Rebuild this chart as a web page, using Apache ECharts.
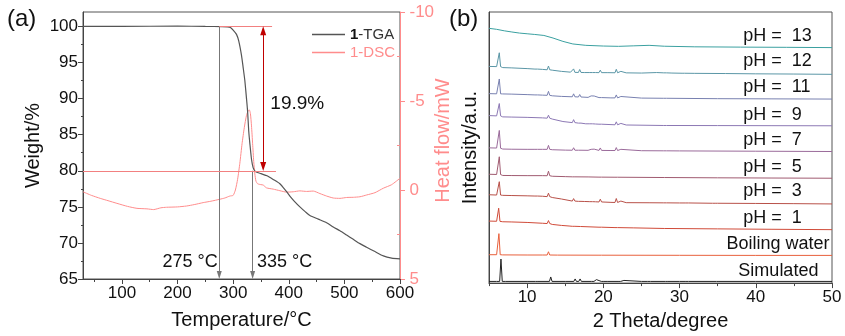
<!DOCTYPE html>
<html>
<head>
<meta charset="utf-8">
<script src="https://cdn.jsdelivr.net/npm/echarts@6/dist/echarts.min.js"></script>
<style>html,body{margin:0;padding:0;background:#fff}#c{width:845px;height:336px}</style>
</head>
<body>
<div id="c"></div>
<script>
// ---------- (a) TGA / DSC data ----------
const tgaTemp   = [30,100,200,250,280,290,295,300,306,310,315,318,321,324,326,328,330,333,336,340,350,361,372,384,395,402,411,420,430,438,453,468,480,492,504,516,528,540,555,570,585,600];
const tgaWeight = [100,100,100.05,100,99.98,99.95,99.85,99.5,98.9,98.0,96.0,94.3,92.5,90.0,88.2,85.5,83.8,81.6,80.4,79.9,79.6,79.3,78.8,78.2,77.2,76.5,75.7,75.0,74.3,73.8,73.3,72.8,72.2,71.7,71.1,70.5,69.9,69.4,68.8,68.2,67.9,67.8];
const dscTemp = [30,45,61,75,91,110,127,145,157,170,180,200,216,230,246,260,276,285,294,300,304,308,312,316,320,324,327,329,331,333,335,337,339,341,344,350,354,360,372,384,396,408,420,432,444,456,468,480,492,504,516,528,540,555,570,585,600];
const dscHeat = [0.1,0.3,0.47,0.6,0.75,0.92,1.03,1.06,1.1,1.0,0.97,0.95,0.9,0.82,0.71,0.63,0.52,0.45,0.34,0.3,0.0,-0.6,-1.5,-2.6,-3.5,-4.2,-4.45,-4.5,-4.3,-3.6,-2.6,-1.6,-0.9,-0.5,-0.35,-0.3,-0.28,-0.12,-0.05,0.04,0.12,0.1,0.05,0.08,0.06,0.2,0.34,0.45,0.47,0.42,0.41,0.38,0.28,0.15,-0.1,-0.3,-0.66];
const tempTickLabels = [100,200,300,400,500,600];
const tempMinorTicks = [50,150,250,350,450,550];
const weightTickLabels = [65,70,75,80,85,90,95,100];
const weightMinorTicks = [67.5,72.5,77.5,82.5,87.5,92.5,97.5];
const heatTickLabels = [-10,-5,0,5];
const heatMinorTicks = [-7.5,-2.5,2.5];
const onsetTemps = [275,335];
const lossLabel = '19.9%';

// ---------- (b) PXRD data: baseline points [2θ, I] and peaks [2θ, base, height] ----------
const xrdNames = ['pH =  13','pH =  12','pH =  11','pH =  9','pH =  7','pH =  5','pH =  3','pH =  1','Boiling water','Simulated'];
const base13 = [[5,257.5],[6,256.5],[7,255],[8,253.8],[9,252.7],[10,252],[11,251.3],[12.2,250.3],[13.4,247.7],[14.7,244.3],[16,241.7],[17.7,240.3],[20,239.6],[22,239.3],[24,239.8],[26,240.3],[28,239.4],[32,238.8],[38,238.5],[44,238.3],[50,238]];
const peaks13 = [];
const base12 = [[5,219],[6,218.8],[6.8,217.8],[8,217.5],[10,216.8],[12,216],[13.3,215.2],[14.5,214],[15.7,213.2],[17.5,212.8],[20.5,212.7],[23,212.5],[25,212.3],[27,212.8],[29,212.3],[32,212],[36,211.8],[40,211.5],[45,211.3],[50,211]];
const peaks12 = [[6.35,218.8,14],[11.2,216.3,1.5],[12.8,215.6,3.8],[16.1,213,3.5],[16.9,212.9,3],[18.4,212.8,1.5],[18.8,212.8,1.8],[19.6,212.7,2.5],[21.7,212.6,3.5],[22.3,212.5,1.5],[28.1,212.5,1.2],[30.5,212.1,0.8]];
const base11 = [[5,191.5],[6,191.3],[6.8,191.2],[8,191],[10,190.5],[12,190],[13.3,189.3],[14.5,188.7],[16,188.3],[18,187.7],[21,187.2],[25,187],[28,186.8],[35,186.4],[42,186.2],[50,186]];
const peaks11 = [[6.35,191.3,15],[11.2,190.2,1.2],[12.8,189.8,4],[16.1,188.3,3],[16.9,188.1,2.5],[18.4,187.7,1.5],[18.8,187.6,1.5],[19.6,187.5,2],[21.7,187.2,3],[22.3,187.1,1.5],[28.1,186.8,1]];
const base9 = [[5,169.3],[6,169],[6.8,168],[8,167.8],[10,167.5],[12,167],[13.3,165.8],[14.7,163.3],[16,162.3],[17.7,161],[20,160.3],[23,159.8],[28,159.3],[35,159.2],[42,159.1],[50,159]];
const peaks9 = [[6.35,169,12.5],[12.8,166.7,3],[16.1,162.2,3],[16.9,161.7,2],[18.4,161,1],[18.8,160.8,1.2],[19.6,160.6,2],[21.7,160,3],[22.3,159.9,1.5],[28.1,159.3,1]];
const base7 = [[5,136.7],[6,136.5],[6.8,135.5],[8,135.3],[10,135.2],[12,135.2],[13.3,134.8],[15,134.4],[18,134.2],[21,134],[25,133.8],[30,133.6],[40,133.3],[50,133]];
const peaks7 = [[6.35,136.3,18],[11.2,135.2,1.5],[12.8,135.2,4],[16.1,134.3,2.5],[16.9,134.3,2],[18.4,134.2,1],[18.8,134.2,1.2],[19.6,134.1,2.5],[21.7,134,3],[22.3,134,1.2],[28.1,133.7,1]];
const base5 = [[5,110],[6,109.8],[6.8,108.8],[8,108.7],[10,108.6],[12,108.6],[13.3,108],[15,107.6],[18,107.3],[22,107],[28,106.7],[35,106.4],[42,106.2],[50,106]];
const peaks5 = [[6.35,109.7,18],[12.8,108.5,4.6],[16.1,107.4,0.8],[19.6,107.1,1.2],[21.7,107,0.8]];
const base3 = [[5,89.3],[6,89],[6.8,88.7],[8,88.5],[10,88.2],[12,87.8],[13.3,86.5],[14.5,85],[16,83],[17.5,82.5],[19,82.1],[21,81.6],[23,81.3],[26,81.2],[30,81],[35,80.7],[40,80.5],[45,80.3],[50,80]];
const peaks3 = [[6.35,89,13.5],[11.2,88,1.5],[12.8,87.4,3.5],[16.1,82.9,2.5],[16.9,82.6,2],[18.4,82.3,1],[18.8,82.2,1.2],[19.6,82,2.8],[21.7,81.5,4],[22.3,81.4,1.5],[28.1,81.1,1.5],[31,81,0.8],[34.5,80.7,0.6]];
const base1 = [[5,62.7],[6,62.5],[6.8,62],[8,61.8],[10,61.3],[12,60.5],[13.3,59.3],[14.5,58.3],[15.5,57.7],[17,57.2],[20,56.5],[24,55.8],[28,55.2],[35,54.8],[42,54.4],[50,54]];
const peaks1 = [[6.27,62.4,13.3],[12.8,60.2,3],[16.1,57.4,0.8],[19.6,56.5,1.5],[21.7,56.1,0.6]];
const baseBW = [[5,28.7],[6,28.7],[6.8,28.5],[10,28.4],[12,28.4],[14,28.3],[20,28.2],[30,28.1],[40,28],[50,28]];
const peaksBW = [[6.3,28.7,21.3],[12.8,28.4,3.3],[19.6,28.2,1]];
const baseSim = [[5,1.7],[6,1.7],[7.2,1.7],[10,1.7],[15,1.7],[20.5,1.7],[25,1.7],[30,1.7],[40,1.7],[50,1.7]];
const peaksSim = [[6.57,1.7,22.6],[11.25,1.7,2],[13.1,1.7,4.5],[16.3,1.7,2.5],[16.95,1.7,2.5],[18.6,1.7,1.5],[19.1,1.7,1.8],[19.9,1.7,2],[22.1,1.7,1.5],[22.7,1.7,1],[26,1.7,0.8],[28.3,1.7,1],[31,1.7,0.8],[35,1.7,0.6]];
const thetaTickLabels = [10,20,30,40,50];
const thetaMinorTicks = [5,15,25,35,45];

// ---------- layout / style (not data) ----------
const xrdBases = [base13,base12,base11,base9,base7,base5,base3,base1,baseBW,baseSim];
const xrdPeaks = [peaks13,peaks12,peaks11,peaks9,peaks7,peaks5,peaks3,peaks1,peaksBW,peaksSim];
const xrdColors = ['#3aa0a0','#5a96a6','#7880b0','#8c78b4','#9a6a9a','#a05a70','#b85048','#d04a38','#e8603c','#222222'];
const xrdLabelAt = [[38.3,250],[38.3,224.3],[38.3,197.7],[38.3,170],[38.3,144.3],[38.3,117.7],[38.3,92.7],[38.3,66],[36.1,39.3],[37.65,12.7]];
const FONT = '"Liberation Sans", Arial, sans-serif';
const PINK = '#ff8c8c';
const AX = '#444';

function buildPattern(base, peaks) {
  const pts = base.map(p => [p[0], p[1]]);
  peaks.forEach(p => {
    const w = 0.17;
    pts.push([p[0] - w, p[1]], [p[0], p[1] + p[2]], [p[0] + w, p[1]]);
  });
  pts.sort((a, b) => a[0] - b[0]);
  return pts;
}

const tgaData = tgaTemp.map((t, i) => [t, tgaWeight[i]]);
const dscData = dscTemp.map((t, i) => [t, dscHeat[i]]);

function textPoint(coord, text, pos, size, color, dist) {
  return { coord: coord, symbol: 'rect', symbolSize: 1, itemStyle: { color: 'rgba(0,0,0,0)' },
    label: { show: true, position: pos, distance: dist || 0, formatter: text, fontSize: size, color: color || '#111', fontFamily: FONT } };
}

// right (heat flow) axis tick labels, placed at the axis end (T = 600) on the DSC scale
const heatLabelPoints = heatTickLabels.map(v => textPoint([600, v], (v < 0 ? '-' : '') + Math.abs(v), 'right', 17, PINK, 9));

const xrdSeries = xrdNames.map((name, i) => ({
  name: name, type: 'line', xAxisIndex: 2, yAxisIndex: 4,
  data: buildPattern(xrdBases[i], xrdPeaks[i]),
  showSymbol: false, symbol: 'none', silent: true,
  lineStyle: { color: xrdColors[i], width: 1 }, itemStyle: { color: xrdColors[i] },
  markPoint: { silent: true, animation: false, data: [textPoint(xrdLabelAt[i], name, 'right', 18)] }
}));

const chart = echarts.init(document.getElementById('c'), null, { renderer: 'canvas' });
chart.setOption({
  animation: false,
  textStyle: { fontFamily: FONT },
  title: [
    { text: '(a)', left: 2, top: 2, textStyle: { fontSize: 24, fontWeight: 'normal', color: '#111', fontFamily: FONT } },
    { text: '(b)', left: 444, top: 2, textStyle: { fontSize: 24, fontWeight: 'normal', color: '#111', fontFamily: FONT } }
  ],
  legend: {
    left: 307, top: 22, orient: 'vertical', itemWidth: 33, itemHeight: 1.5, itemGap: 3, itemTextGap: 4,
    icon: 'rect',
    data: ['1-TGA', '1-DSC'],
    formatter: n => n === '1-TGA' ? '{b|1}{n|-TGA}' : '{p|1-DSC}',
    textStyle: { fontSize: 15, fontFamily: FONT, rich: {
      b: { fontSize: 15, fontWeight: 'bold', color: '#111', fontFamily: FONT },
      n: { fontSize: 15, color: '#333', fontFamily: FONT },
      p: { fontSize: 15, color: PINK, fontFamily: FONT } } }
  },
  grid: [
    { left: 83, right: 445, top: 12, bottom: 57, show: true, borderColor: '#555', borderWidth: 1 },
    { left: 489, right: 13, top: 12, bottom: 50, show: true, borderColor: '#555', borderWidth: 1 }
  ],
  xAxis: [
    { gridIndex: 0, type: 'value', position: 'bottom', min: 30, max: 600, name: 'Temperature/°C', nameLocation: 'middle', nameGap: 31,
      nameTextStyle: { fontSize: 20, color: '#111' },
      axisLine: { show: true, onZero: false, lineStyle: { color: AX } },
      axisTick: { show: true, customValues: tempTickLabels, length: 5, lineStyle: { color: AX } },
      axisLabel: { customValues: tempTickLabels, fontSize: 17, color: '#111', margin: 6 },
      splitLine: { show: false } },
    { gridIndex: 0, type: 'value', position: 'bottom', min: 30, max: 600,
      axisLine: { show: false, onZero: false }, axisTick: { show: true, customValues: tempMinorTicks, length: 3, lineStyle: { color: AX } },
      axisLabel: { show: false }, splitLine: { show: false } },
    { gridIndex: 1, type: 'value', position: 'bottom', min: 5, max: 50, name: '2 Theta/degree', nameLocation: 'middle', nameGap: 25,
      nameTextStyle: { fontSize: 20, color: '#111' },
      axisLine: { show: true, onZero: false, lineStyle: { color: AX } },
      axisTick: { show: true, customValues: thetaTickLabels, length: 5, lineStyle: { color: AX } },
      axisLabel: { customValues: thetaTickLabels, fontSize: 17, color: '#111', margin: 6 },
      splitLine: { show: false } },
    { gridIndex: 1, type: 'value', position: 'bottom', min: 5, max: 50,
      axisLine: { show: false, onZero: false }, axisTick: { show: true, customValues: thetaMinorTicks, length: 3, lineStyle: { color: AX } },
      axisLabel: { show: false }, splitLine: { show: false } }
  ],
  yAxis: [
    { gridIndex: 0, type: 'value', min: 65, max: 102, position: 'left', name: 'Weight/%', nameLocation: 'middle', nameGap: 40,
      nameTextStyle: { fontSize: 20, color: '#111' },
      axisLine: { show: true, onZero: false, lineStyle: { color: AX } },
      axisTick: { show: true, customValues: weightTickLabels, length: 5, lineStyle: { color: AX } },
      axisLabel: { customValues: weightTickLabels, fontSize: 17, color: '#111', margin: 5 },
      splitLine: { show: false } },
    { gridIndex: 0, type: 'value', min: 65, max: 102, position: 'left',
      axisLine: { show: false, onZero: false }, axisTick: { show: true, customValues: weightMinorTicks, length: 2, lineStyle: { color: AX } },
      axisLabel: { show: false }, splitLine: { show: false } },
    { gridIndex: 0, type: 'value', min: -10, max: 5, inverse: true, position: 'right', name: 'Heat flow/mW', nameLocation: 'middle', nameGap: 33,
      nameTextStyle: { fontSize: 20, color: PINK, padding: [0, 0, 0, 10] },
      axisLine: { show: true, onZero: false, lineStyle: { color: PINK } },
      axisTick: { show: true, customValues: heatTickLabels, length: 5, lineStyle: { color: PINK } },
      axisLabel: { show: false },
      splitLine: { show: false } },
    { gridIndex: 0, type: 'value', min: -10, max: 5, inverse: true, position: 'right',
      axisLine: { show: false, onZero: false }, axisTick: { show: true, inside: true, customValues: heatMinorTicks, length: 3, lineStyle: { color: PINK } },
      axisLabel: { show: false }, splitLine: { show: false } },
    { gridIndex: 1, type: 'value', min: 0, max: 274, position: 'left', name: 'Intensity/a.u.', nameLocation: 'middle', nameGap: 9,
      nameTextStyle: { fontSize: 20, color: '#111' },
      axisLine: { show: true, onZero: false, lineStyle: { color: AX } }, axisTick: { show: false }, axisLabel: { show: false },
      splitLine: { show: false } }
  ],
  series: [
    { name: '1-TGA', type: 'line', xAxisIndex: 0, yAxisIndex: 0, data: tgaData, showSymbol: false, symbol: 'none', smooth: 0.2,
      lineStyle: { color: '#555', width: 1.2 }, itemStyle: { color: '#555' }, z: 3,
      markLine: { silent: true, animation: false, label: { show: false }, symbol: ['none', 'none'],
        data: [
          [{ coord: [onsetTemps[0], 100], symbol: 'none' }, { coord: [onsetTemps[0], 65.55], symbol: 'triangle', symbolSize: [5, 8] }],
          [{ coord: [onsetTemps[1], 80], symbol: 'none' }, { coord: [onsetTemps[1], 65.55], symbol: 'triangle', symbolSize: [5, 8] }],
          [{ coord: [30, 80], symbol: 'none', lineStyle: { color: '#f28080', width: 1, type: 'solid' } }, { coord: [377, 80], symbol: 'none' }],
          [{ coord: [onsetTemps[0], 100], symbol: 'none', lineStyle: { color: '#f28080', width: 1, type: 'solid' } }, { coord: [370, 100], symbol: 'none' }],
          [{ coord: [354, 99.4], symbol: 'triangle', symbolSize: [6, 9], lineStyle: { color: '#c00000', width: 1, type: 'solid' } }, { coord: [354, 80.6], symbol: 'triangle', symbolSize: [6, 9] }]
        ],
        lineStyle: { color: '#777', width: 1, type: 'solid' }
      },
      markPoint: { silent: true, animation: false, data: [
        textPoint([366, 89.3], lossLabel, 'right', 19),
        textPoint([273, 67.3], onsetTemps[0] + ' °C', 'left', 18),
        textPoint([342, 67.3], onsetTemps[1] + ' °C', 'right', 18)
      ] }
    },
    { name: '1-DSC', type: 'line', xAxisIndex: 0, yAxisIndex: 2, data: dscData, showSymbol: false, symbol: 'none', smooth: 0.2,
      lineStyle: { color: PINK, width: 1 }, itemStyle: { color: PINK }, z: 2,
      markPoint: { silent: true, animation: false, data: heatLabelPoints } }
  ].concat(xrdSeries)
});
</script>
</body>
</html>
